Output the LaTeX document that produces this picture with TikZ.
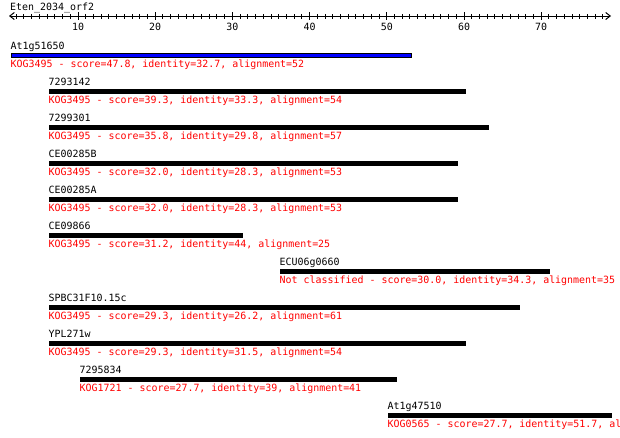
\documentclass[tikz,border=0pt]{standalone}
\usepackage{fontspec}
\newfontfamily\pixfont{DejaVu Sans Mono}
\usetikzlibrary{arrows.meta, positioning}
\definecolor{kogred}{RGB}{255,0,0}
\definecolor{kogblue}{RGB}{0,0,255}

\begin{document}
\begin{tikzpicture}[
  x=1pt, y=-1pt, font=\pixfont\fontsize{9.95pt}{12pt}\selectfont,
  ruler/.style = {line width=1pt, {Straight Barb[length=4.5pt,width=7pt]}-{Straight Barb[length=4.5pt,width=7pt]}},
  tick/.style = {line width=1pt},
  hitbar/.style = {rectangle, draw=black, fill=black, line width=1pt, inner sep=0pt, minimum height=4pt, anchor=north west},
  hitlabel/.style = {inner sep=0pt, anchor=base west, text=black},
  hitinfo/.style = {inner sep=0pt, anchor=base west, text=kogred}
  ]
  \useasboundingbox (0,0) rectangle (620,437);
  % query and scale
  \node[hitlabel] (query) at (10,10) {Eten\_2034\_orf2};
  \coordinate (rl) at (9,16);
  \coordinate (rr) at (611,16);
  \draw[ruler] (rl) -- (rr);
  \foreach \u in {2,...,78} {
    \draw[tick] ({0.8+7.72*\u},14) -- ({0.8+7.72*\u},18.5);
  }
  \foreach \u in {10,20,...,70} {
    \draw[tick] ({0.8+7.72*\u},12) -- ({0.8+7.72*\u},20);
    \node[inner sep=0pt, anchor=base] (t\u) at ({0.8+7.72*\u},30) {\u};
  }
  % hits
  \node[hitbar, fill=kogblue, minimum width=400pt] (b0) at (10.5,52.5) {};
  \node[above=3pt of b0.north west, hitlabel] (n0) {At1g51650};
  \node[below=9.5pt of b0.south west, hitinfo] (i0) {KOG3495 - score=47.8, identity=32.7, alignment=52};
  \node[hitbar, minimum width=416pt] (b1) at (48.5,88.5) {};
  \node[above=3pt of b1.north west, hitlabel] (n1) {7293142};
  \node[below=9.5pt of b1.south west, hitinfo] (i1) {KOG3495 - score=39.3, identity=33.3, alignment=54};
  \node[hitbar, minimum width=439pt] (b2) at (48.5,124.5) {};
  \node[above=3pt of b2.north west, hitlabel] (n2) {7299301};
  \node[below=9.5pt of b2.south west, hitinfo] (i2) {KOG3495 - score=35.8, identity=29.8, alignment=57};
  \node[hitbar, minimum width=408pt] (b3) at (48.5,160.5) {};
  \node[above=3pt of b3.north west, hitlabel] (n3) {CE00285B};
  \node[below=9.5pt of b3.south west, hitinfo] (i3) {KOG3495 - score=32.0, identity=28.3, alignment=53};
  \node[hitbar, minimum width=408pt] (b4) at (48.5,196.5) {};
  \node[above=3pt of b4.north west, hitlabel] (n4) {CE00285A};
  \node[below=9.5pt of b4.south west, hitinfo] (i4) {KOG3495 - score=32.0, identity=28.3, alignment=53};
  \node[hitbar, minimum width=193pt] (b5) at (48.5,232.5) {};
  \node[above=3pt of b5.north west, hitlabel] (n5) {CE09866};
  \node[below=9.5pt of b5.south west, hitinfo] (i5) {KOG3495 - score=31.2, identity=44, alignment=25};
  \node[hitbar, minimum width=269pt] (b6) at (279.5,268.5) {};
  \node[above=3pt of b6.north west, hitlabel] (n6) {ECU06g0660};
  \node[below=9.5pt of b6.south west, hitinfo] (i6) {Not classified - score=30.0, identity=34.3, alignment=35};
  \node[hitbar, minimum width=470pt] (b7) at (48.5,304.5) {};
  \node[above=3pt of b7.north west, hitlabel] (n7) {SPBC31F10.15c};
  \node[below=9.5pt of b7.south west, hitinfo] (i7) {KOG3495 - score=29.3, identity=26.2, alignment=61};
  \node[hitbar, minimum width=416pt] (b8) at (48.5,340.5) {};
  \node[above=3pt of b8.north west, hitlabel] (n8) {YPL271w};
  \node[below=9.5pt of b8.south west, hitinfo] (i8) {KOG3495 - score=29.3, identity=31.5, alignment=54};
  \node[hitbar, minimum width=316pt] (b9) at (79.5,376.5) {};
  \node[above=3pt of b9.north west, hitlabel] (n9) {7295834};
  \node[below=9.5pt of b9.south west, hitinfo] (i9) {KOG1721 - score=27.7, identity=39, alignment=41};
  \node[hitbar, minimum width=223pt] (b10) at (387.5,412.5) {};
  \node[above=3pt of b10.north west, hitlabel] (n10) {At1g47510};
  \node[below=9.5pt of b10.south west, hitinfo] (i10) {KOG0565 - score=27.7, identity=51.7, al};
\end{tikzpicture}
\end{document}
